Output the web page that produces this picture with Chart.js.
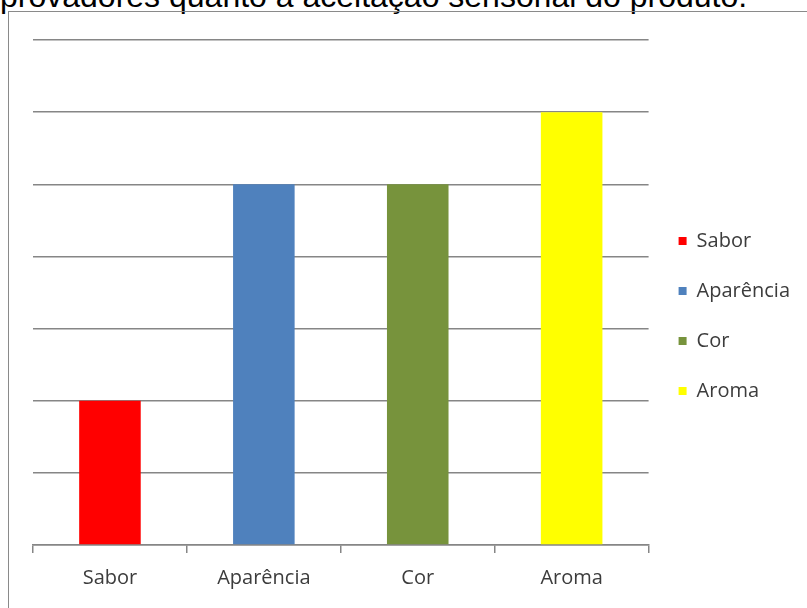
<!DOCTYPE html>
<html>
<head>
<meta charset="utf-8">
<script src="https://cdn.jsdelivr.net/npm/chart.js@4.4.1/dist/chart.umd.min.js"></script>
<style>
  html, body { margin: 0; padding: 0; background: #fff; overflow: hidden; }
  body { width: 807px; height: 608px; position: relative; }
  #title {
    position: absolute; left: 0; top: -20px;
    font: 32px "Liberation Sans", Arial, sans-serif; line-height: 32px;
    color: #000; white-space: nowrap;
  }
  #frame {
    position: absolute; left: 8px; top: 11px; width: 900px; height: 700px;
    border-left: 1px solid #8a8a8a; border-top: 1px solid #8a8a8a;
  }
  #wrap { position: absolute; left: 9px; top: 12px; width: 798px; height: 596px; }
</style>
</head>
<body>
<div id="title">provadores quanto à aceitação sensorial do produto.</div>
<div id="frame"></div>
<div id="wrap"><canvas id="chart"></canvas></div>
<script>
// chart data
const categories = ['Sabor', 'Aparência', 'Cor', 'Aroma'];
const scores = [2, 5, 5, 6];
const barColors = ['#FF0000', '#4F81BD', '#77933C', '#FFFF00'];
const yMax = 7;

const gridColor = '#868686';
const textColor = '#3c3c3c';

// one dataset per category so the legend lists each one
const datasets = categories.map((name, i) => ({
    label: name,
    data: categories.map((_, j) => (j === i ? scores[i] : null)),
    backgroundColor: barColors[i],
    borderWidth: 0,
    barPercentage: 0.4,
    categoryPercentage: 1,
    grouped: false
}));

new Chart(document.getElementById('chart'), {
    type: 'bar',
    data: { labels: categories, datasets: datasets },
    options: {
        responsive: true,
        maintainAspectRatio: false,
        animation: false,
        layout: { padding: { top: 28, bottom: 16, left: 24, right: 7 } },
        plugins: {
            tooltip: { enabled: false },
            legend: {
                position: 'right',
                labels: {
                    boxWidth: 8,
                    boxHeight: 8,
                    padding: 30,
                    color: textColor,
                    font: { family: '"Open Sans", sans-serif', size: 20 }
                }
            }
        },
        scales: {
            x: {
                offset: true,
                grid: {
                    drawOnChartArea: false,
                    drawTicks: true,
                    tickLength: 8,
                    color: gridColor,
                    lineWidth: 1.5
                },
                border: { color: gridColor, width: 1.5 },
                ticks: {
                    color: textColor,
                    padding: 17,
                    font: { family: '"Open Sans", sans-serif', size: 20, lineHeight: '16px' }
                },
                // trim the empty space below the labels
                afterFit: (scale) => { scale.height = 47; }
            },
            y: {
                min: 0,
                max: yMax,
                ticks: { display: false, stepSize: 1 },
                grid: { color: gridColor, lineWidth: 1.5, drawTicks: false },
                border: { display: false }
            }
        }
    }
});
</script>
</body>
</html>
